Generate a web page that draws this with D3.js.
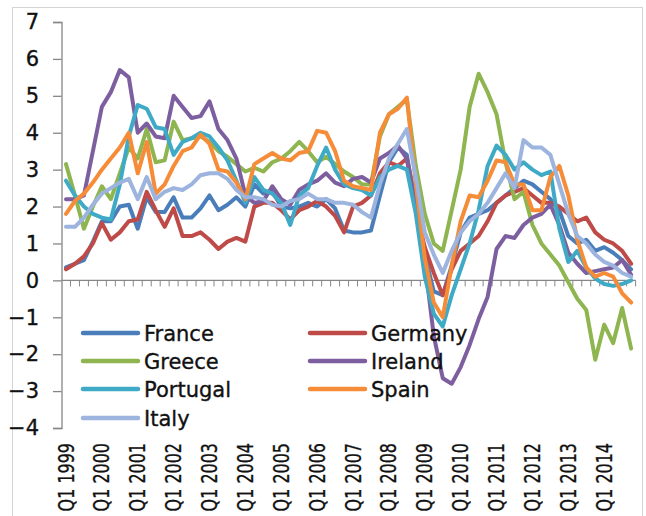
<!DOCTYPE html>
<html>
<head>
<meta charset="utf-8">
<script src="https://cdn.jsdelivr.net/npm/d3@7"></script>
<style>
  body { margin: 0; background: #fff; }
  text { font-family: "DejaVu Sans", sans-serif; fill: #111; }
</style>
</head>
<body>
<div id="chart"></div>
<script>
// quarterly categories, Q1 1999 .. Q4 2014
const years = [1999, 2000, 2001, 2002, 2003, 2004, 2005, 2006, 2007, 2008, 2009, 2010, 2011, 2012, 2013, 2014];
const quarterNames = ["Q1", "Q2", "Q3", "Q4"];
const quarters = years.flatMap(yr => quarterNames.map(q => `${q} ${yr}`));
const tickLabels = years.map(yr => `Q1 ${yr}`);
const yTicks = [-4, -3, -2, -1, 0, 1, 2, 3, 4, 5, 6, 7];

// series values (annual inflation rate, %)
const france = [0.35, 0.45, 0.55, 1.05, 1.6, 1.6, 2.0, 2.05, 1.4, 2.25, 1.85, 1.85, 2.25, 1.7, 1.7, 1.95,
  2.3, 1.9, 2.05, 2.25, 2.0, 2.6, 2.35, 2.4, 2.0, 1.95, 2.0, 2.1, 2.0, 2.2, 1.95, 1.35,
  1.3, 1.3, 1.35, 2.3, 3.2, 3.6, 3.4, 2.0, 0.7, -0.3, -0.4, 0.4, 1.3, 1.7, 1.8, 1.9,
  2.1, 2.3, 2.5, 2.7, 2.6, 2.4, 2.2, 1.9, 1.2, 1.0, 1.1, 0.8, 0.9, 0.75, 0.55, 0.3];
const germany = [0.3, 0.45, 0.65, 1.0, 1.55, 1.1, 1.3, 1.6, 1.65, 2.4, 1.9, 1.45, 1.95, 1.2, 1.2, 1.3,
  1.1, 0.85, 1.05, 1.15, 1.05, 2.0, 2.1, 2.1, 1.9, 1.65, 1.9, 2.0, 2.15, 2.0, 1.75, 1.3,
  2.0, 2.1, 2.3, 2.9, 3.2, 3.1, 3.3, 1.9, 0.9, 0.2, -0.4, 0.3, 0.8, 1.0, 1.2, 1.6,
  2.1, 2.3, 2.4, 2.5, 2.3, 2.1, 2.1, 2.0, 1.8, 1.6, 1.7, 1.3, 1.1, 1.0, 0.8, 0.45];
const greece = [3.15, 2.3, 1.4, 2.0, 2.55, 2.2, 2.9, 3.6, 3.3, 4.1, 3.2, 3.25, 4.3, 3.8, 3.85, 3.9,
  3.75, 3.5, 3.35, 3.15, 2.95, 3.05, 2.95, 3.2, 3.3, 3.5, 3.75, 3.5, 3.2, 3.35, 3.15, 2.95,
  2.8, 2.6, 2.6, 3.9, 4.5, 4.7, 4.9, 3.1, 1.8, 1.0, 0.8, 1.9, 3.0, 4.7, 5.6, 5.1,
  4.5, 3.2, 2.2, 2.4, 1.5, 1.0, 0.7, 0.4, -0.05, -0.5, -0.8, -2.15, -1.2, -1.7, -0.75, -1.85];
const ireland = [2.2, 2.2, 2.3, 3.5, 4.7, 5.1, 5.7, 5.5, 4.0, 4.25, 3.9, 3.85, 5.0, 4.7, 4.4, 4.45,
  4.85, 4.1, 3.8, 3.3, 2.3, 2.1, 2.15, 2.55, 2.2, 2.05, 2.45, 2.6, 2.7, 2.9, 2.65, 2.55,
  2.75, 2.8, 2.65, 3.3, 3.45, 3.65, 3.3, 2.1, 0.5, -1.5, -2.65, -2.8, -2.35, -1.75, -1.05, -0.45,
  0.85, 1.2, 1.15, 1.5, 1.7, 1.8, 2.05, 1.5, 0.75, 0.45, 0.2, 0.25, 0.3, 0.35, 0.55, 0.15];
const portugal = [2.7, 2.3, 2.0, 1.8, 1.7, 1.65, 2.6, 3.9, 4.75, 4.65, 4.15, 4.1, 3.4, 3.75, 3.85, 4.0,
  3.9, 3.6, 3.25, 2.7, 2.1, 2.8, 2.45, 2.35, 2.1, 1.5, 2.3, 2.5, 3.1, 3.6, 3.0, 2.6,
  2.5, 2.45, 2.3, 2.8, 3.0, 3.1, 3.0, 1.8, 0.1, -0.9, -1.25, -0.4, 0.3, 1.0, 1.9, 3.1,
  3.65, 3.4, 3.0, 3.2, 3.0, 2.85, 2.95, 1.4, 0.5, 0.8, 0.35, 0.05, -0.1, -0.15, -0.1, 0.0];
const spain = [1.8, 2.15, 2.35, 2.65, 3.0, 3.3, 3.6, 4.0, 2.9, 3.75, 2.35, 2.6, 3.1, 3.5, 3.6, 3.95,
  3.7, 3.0, 2.95, 2.65, 2.2, 3.15, 3.3, 3.45, 3.3, 3.25, 3.45, 3.5, 4.05, 4.0, 3.5, 2.7,
  2.55, 2.5, 2.45, 4.0, 4.5, 4.65, 4.95, 2.6, 0.6, -0.6, -1.0, 0.4, 1.6, 2.3, 2.25, 2.7,
  3.25, 3.2, 2.6, 2.6, 1.9, 1.9, 2.8, 3.1, 2.3, 1.1, 0.35, 0.1, 0.2, 0.1, -0.35, -0.6];
const italy = [1.45, 1.45, 1.7, 2.05, 2.35, 2.5, 2.65, 2.75, 2.2, 2.8, 2.2, 2.4, 2.5, 2.45, 2.6, 2.85,
  2.9, 2.9, 2.75, 2.45, 2.25, 2.25, 2.2, 2.05, 2.0, 2.15, 2.2, 2.35, 2.2, 2.2, 2.1, 2.1,
  2.05, 1.85, 1.7, 2.6, 3.3, 3.7, 4.1, 2.8, 1.3, 0.7, 0.2, 0.8, 1.3, 1.6, 1.8, 2.1,
  2.5, 2.9, 2.5, 3.8, 3.6, 3.6, 3.4, 2.6, 1.8, 1.2, 1.0, 0.7, 0.5, 0.4, 0.2, 0.1];

const seriesNames = ["France", "Germany", "Greece", "Ireland", "Portugal", "Spain", "Italy"];
const seriesValues = [france, germany, greece, ireland, portugal, spain, italy];
const seriesColors = ["#4a7ebb", "#be4b48", "#8fb550", "#7d5fa0", "#3faac6", "#f68c38", "#9cb4de"];

// layout
const W = 646, H = 516;
const MARGIN = { TOP: 22, BOTTOM: 88, LEFT: 61.5, RIGHT: 10.4 };
const WIDTH = W - MARGIN.LEFT - MARGIN.RIGHT;
const HEIGHT = H - MARGIN.TOP - MARGIN.BOTTOM;

const root = d3.select("#chart").append("svg")
  .attr("width", W)
  .attr("height", H);

// chart frame
root.append("rect")
  .attr("x", 12.5).attr("y", 7.5)
  .attr("width", 630).attr("height", 530)
  .attr("fill", "none")
  .attr("stroke", "#d4d4d4");

const svg = root.append("g")
  .attr("transform", `translate(${MARGIN.LEFT},${MARGIN.TOP})`);

const x = d3.scaleBand()
  .domain(quarters)
  .range([0, WIDTH])
  .padding(0);

const y = d3.scaleLinear()
  .domain([-4, 7])
  .range([HEIGHT, 0]);

// y axis
const yAxis = svg.append("g")
  .call(d3.axisLeft(y).tickValues(yTicks).tickSize(8.5).tickPadding(14).tickFormat(d3.format("d")));
yAxis.select(".domain").attr("stroke", "#868686").attr("stroke-width", 1.3);
yAxis.selectAll(".tick line").attr("stroke", "#868686").attr("stroke-width", 1.3);
yAxis.selectAll(".tick text")
  .attr("font-family", "DejaVu Sans, sans-serif")
  .attr("font-size", 21)
  .attr("fill", "#111")
  .attr("stroke", "#111")
  .attr("stroke-width", 0.35);

// x axis at zero, ticks between categories
const xAxis = svg.append("g").attr("transform", `translate(0,${y(0)})`);
xAxis.append("line")
  .attr("x1", 0).attr("x2", WIDTH)
  .attr("stroke", "#868686").attr("stroke-width", 1.3);
xAxis.selectAll(".xtick")
  .data(d3.range(1, quarters.length + 1))
  .enter().append("line")
  .attr("class", "xtick")
  .attr("x1", i => i * x.step()).attr("x2", i => i * x.step())
  .attr("y1", 0).attr("y2", 6)
  .attr("stroke", "#868686").attr("stroke-width", 1);

// rotated category labels below the plot
svg.selectAll(".xlabel")
  .data(tickLabels)
  .enter().append("text")
  .attr("class", "xlabel")
  .attr("transform", d => `translate(${x(d) + x.bandwidth() / 2},${HEIGHT + 15}) rotate(-90) scale(0.76,1)`)
  .attr("text-anchor", "end")
  .attr("dy", "0.36em")
  .attr("font-size", 21)
  .attr("stroke", "#111")
  .attr("stroke-width", 0.35)
  .text(d => d);

// series lines
const line = d3.line()
  .x((d, i) => x(quarters[i]) + x.bandwidth() / 2)
  .y(d => y(d));

svg.selectAll(".series")
  .data(seriesValues)
  .enter().append("path")
  .attr("class", "series")
  .attr("d", line)
  .attr("fill", "none")
  .attr("stroke", (d, i) => seriesColors[i])
  .attr("stroke-width", 4)
  .attr("stroke-linejoin", "round")
  .attr("stroke-linecap", "round");

// legend, two columns inside the plot
const legendCols = [21.5, 248.5];
const legendRows = [311, 339, 367, 396];
const legend = svg.selectAll(".legend")
  .data(seriesNames)
  .enter().append("g")
  .attr("class", "legend")
  .attr("transform", (d, i) => `translate(${legendCols[i % 2]},${legendRows[Math.floor(i / 2)]})`);

legend.append("line")
  .attr("x1", 0).attr("x2", 55)
  .attr("stroke", (d, i) => seriesColors[i])
  .attr("stroke-width", 4.5)
  .attr("stroke-linecap", "round");

legend.append("text")
  .attr("x", 61)
  .attr("dy", "0.36em")
  .attr("font-size", 21)
  .attr("stroke", "#111")
  .attr("stroke-width", 0.35)
  .text(d => d);
</script>
</body>
</html>
